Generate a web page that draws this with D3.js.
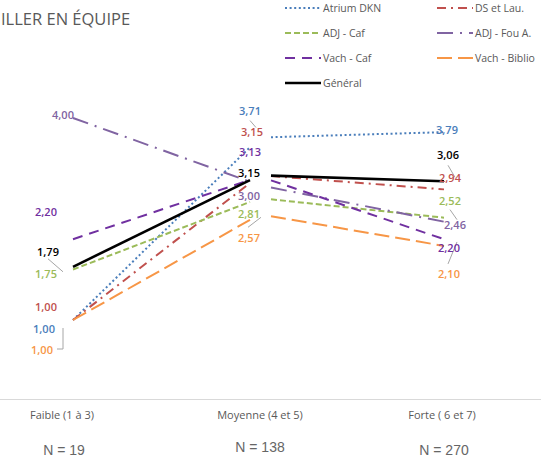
<!DOCTYPE html>
<html lang="fr">
<head>
<meta charset="utf-8">
<script src="https://cdn.jsdelivr.net/npm/d3@7"></script>
<style>
  html, body { margin: 0; padding: 0; background: #fff; }
  svg { display: block; }
  text { font-family: "Open Sans", "Liberation Sans", sans-serif; }
</style>
</head>
<body>
<svg id="chart" width="541" height="459"></svg>
<script>
// Categories (perceived level) and group sizes
const categories = ["Faible (1 à 3)", "Moyenne (4 et 5)", "Forte ( 6 et 7)"];
const sampleSizes = ["N = 19", "N = 138", "N = 270"];

// Series names and mean scores per category
const seriesNames = ["Atrium DKN", "DS et Lau.", "ADJ - Caf", "ADJ - Fou A.", "Vach - Caf", "Vach - Biblio", "Général"];
const atriumDkn   = [1.00, 3.71, 3.79];
const dsEtLau     = [1.00, 3.15, 2.94];
const adjCaf      = [1.75, 2.81, 2.52];
const adjFou      = [4.00, 3.00, 2.46];
const vachCaf     = [2.20, 3.13, 2.20];
const vachBiblio  = [1.00, 2.57, 2.10];
const general     = [1.79, 3.15, 3.06];

const title = "ILLER EN ÉQUIPE";

const seriesValues = [atriumDkn, dsEtLau, adjCaf, adjFou, vachCaf, vachBiblio, general];

// Visual styles per series
const styles = [
  { color: "#4a7ebb", dash: "2,2.6", width: 2 },
  { color: "#c0504d", dash: "9,5,2,5", width: 2 },
  { color: "#9bbb59", dash: "6,3", width: 2 },
  { color: "#8064a2", dash: "16,7,2,7", width: 2 },
  { color: "#7030a0", dash: "10,7", width: 2 },
  { color: "#f79646", dash: "15,6", width: 2 },
  { color: "#000000", dash: null, width: 2.6 }
];

// Data-label offsets (relative to each point), per series, per category
const labelOffsets = [
  [[-29, 9],  [-10, -26], [3, -2]],
  [[-27, -13],[-8, -43],  [6, -11]],
  [[-27, 5],  [-11, 16],  [6, -17]],
  [[-10, -3], [-11, 11],  [11, 3]],
  [[-27, -27],[-10, -24], [5, 9]],
  [[-31, 30], [-11, 24],  [5, 28]],
  [[-25, -15],[-11, -2],  [4, -26]]
];

// Leader lines: series, category, polyline points relative to the label centre
const leaders = [
  { s: 6, c: 0, pts: [[0, 7], [15, 20]] },
  { s: 5, c: 0, pts: [[15, -1], [21, -1], [21, -22]] },
  { s: 0, c: 1, pts: [[0, 9], [6, 16]] },
  { s: 5, c: 1, pts: [[-1, -11], [12, -21]] },
  { s: 6, c: 2, pts: [[0, 10], [7, 22]] },
  { s: 2, c: 2, pts: [[0, 9], [7, 19]] },
  { s: 5, c: 2, pts: [[8, -32], [-1, -10]] }
];

const svg = d3.select("#chart");
const W = 541, H = 459;

const x = d3.scaleOrdinal().domain(categories).range([73, 260, 444]);
const y = d3.scaleLinear().domain([1, 4]).range([320, 118]);
const fmt = v => d3.format(".2f")(v).replace(".", ",");

// Title
svg.append("text")
  .attr("x", 1).attr("y", 25)
  .attr("font-size", 16.5)
  .attr("fill", "#595959")
  .text(title);

// Horizontal base line
svg.append("line")
  .attr("x1", 0).attr("x2", W)
  .attr("y1", 399.5).attr("y2", 399.5)
  .attr("stroke", "#d9d9d9").attr("stroke-width", 1.2);

// Category axis labels and sample sizes
const catLabelShift = [-11, 0, -2];
svg.selectAll("text.cat").data(categories).join("text")
  .attr("class", "cat")
  .attr("x", (d, i) => x(d) + catLabelShift[i])
  .attr("y", 419)
  .attr("text-anchor", "middle")
  .attr("font-size", 11)
  .attr("fill", "#595959")
  .text(d => d);

const nShift = [[-9, 455], [0, 452], [0, 455]];
svg.selectAll("text.n").data(sampleSizes).join("text")
  .attr("class", "n")
  .attr("x", (d, i) => x(categories[i]) + nShift[i][0])
  .attr("y", (d, i) => nShift[i][1])
  .attr("text-anchor", "middle")
  .style("font-family", "'Liberation Sans', Arial, sans-serif")
  .attr("font-size", 14)
  .attr("fill", "#666666")
  .text(d => d);

// Lines: each series drawn as two segments with a small gap at the middle category
const gapLeft = 10, gapRight = 11;
const lineGen = d3.line();
const plot = svg.append("g");

seriesValues.forEach((vals, si) => {
  const p = vals.map((v, i) => [x(categories[i]), y(v)]);
  const along = (a, b, xx) => {
    const t = (xx - a[0]) / (b[0] - a[0]);
    return [xx, a[1] + (b[1] - a[1]) * t];
  };
  const seg1 = [p[0], along(p[0], p[1], p[1][0] - gapLeft)];
  const seg2 = [along(p[1], p[2], p[1][0] + gapRight), p[2]];
  [seg1, seg2].forEach(seg => {
    plot.append("path")
      .attr("d", lineGen(seg))
      .attr("fill", "none")
      .attr("stroke", styles[si].color)
      .attr("stroke-width", styles[si].width)
      .attr("stroke-dasharray", styles[si].dash)
      .attr("stroke-linecap", "butt");
  });
});

// Leader lines
leaders.forEach(l => {
  const cx = x(categories[l.c]) + labelOffsets[l.s][l.c][0];
  const cy = y(seriesValues[l.s][l.c]) + labelOffsets[l.s][l.c][1];
  svg.append("path")
    .attr("d", lineGen(l.pts.map(pt => [cx + pt[0], cy + pt[1]])))
    .attr("fill", "none")
    .attr("stroke", "#a6a6a6")
    .attr("stroke-width", 1);
});

// Data labels
seriesValues.forEach((vals, si) => {
  svg.selectAll(null).data(vals).join("text")
    .attr("x", (d, i) => x(categories[i]) + labelOffsets[si][i][0])
    .attr("y", (d, i) => y(d) + labelOffsets[si][i][1])
    .attr("dy", "0.35em")
    .attr("text-anchor", "middle")
    .attr("font-size", 11)
    .attr("font-weight", 600)
    .attr("fill", styles[si].color)
    .text(d => fmt(d));
});

// Legend
const legendPos = [[285, 8], [437, 8], [285, 33], [437, 33], [285, 58], [437, 58], [285, 83]];
const legend = svg.append("g");
seriesNames.forEach((name, i) => {
  const g = legend.append("g").attr("transform", `translate(${legendPos[i][0]},${legendPos[i][1]})`);
  g.append("line")
    .attr("x1", 0).attr("x2", 36).attr("y1", 0).attr("y2", 0)
    .attr("stroke", styles[i].color)
    .attr("stroke-width", styles[i].width)
    .attr("stroke-dasharray", styles[i].dash);
  g.append("text")
    .attr("x", 38).attr("y", 0).attr("dy", "0.35em")
    .attr("font-size", 10.5)
    .attr("fill", "#595959")
    .text(name);
});
</script>
</body>
</html>
